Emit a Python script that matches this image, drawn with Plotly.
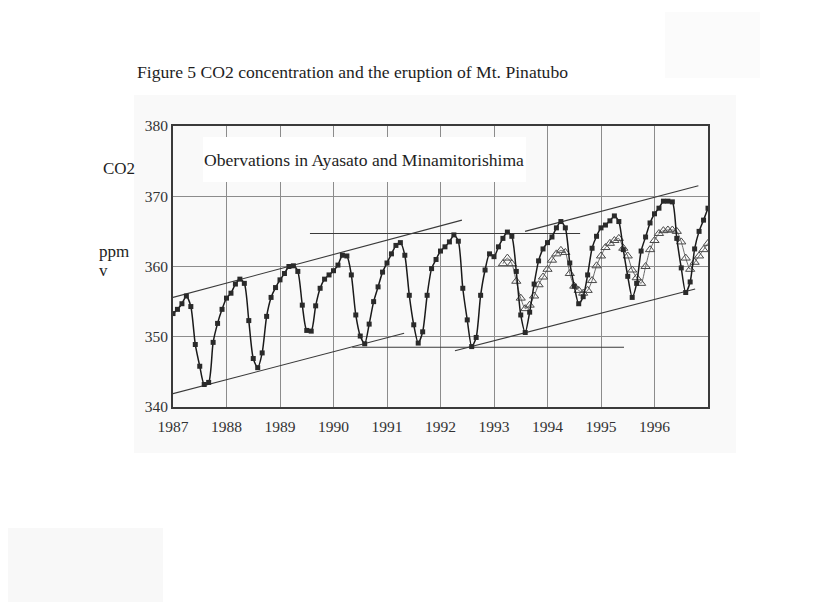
import numpy as np
import plotly.graph_objects as go

# Monthly CO2 (ppmv), Jan 1987 .. Jan 1997 -- Ayasato (filled squares)
ayasato = [
    353.3, 353.9, 354.7, 355.8, 354.3, 348.9, 345.8, 343.2, 343.5, 349.2, 351.9, 353.9,  # 1987
    355.5, 356.2, 357.5, 358.2, 357.6, 352.3, 346.9, 345.6, 347.7, 352.9, 355.6, 357.0,  # 1988
    358.1, 359.0, 360.0, 360.1, 359.3, 354.5, 350.9, 350.8, 354.4, 356.9, 358.2, 358.8,  # 1989
    359.4, 360.2, 361.6, 361.5, 358.8, 353.1, 350.1, 349.0, 351.8, 355.0, 357.1, 359.2,  # 1990
    360.5, 361.8, 363.0, 363.4, 361.6, 355.9, 351.7, 349.1, 350.7, 355.9, 359.7, 361.0,  # 1991
    362.2, 362.8, 363.5, 364.5, 363.6, 356.9, 352.4, 348.6, 349.9, 355.9, 359.5, 361.8,  # 1992
    361.4, 362.8, 364.0, 364.9, 364.3, 359.3, 353.1, 350.6, 353.5, 357.5, 360.8, 362.5,  # 1993
    363.4, 364.2, 365.5, 366.4, 365.5, 360.5, 357.2, 354.7, 355.7, 358.8, 362.6, 364.3,  # 1994
    365.5, 365.9, 366.5, 367.2, 366.4, 362.4, 358.6, 355.6, 357.6, 362.2, 364.2, 366.2,  # 1995
    367.5, 368.3, 369.3, 369.3, 369.2, 364.0, 359.8, 356.3, 357.8, 362.5, 365.0, 366.6,  # 1996
    368.3,                                                                               # Jan 1997
]

# Monthly CO2 (ppmv), Mar 1993 .. Jan 1997 -- Minamitorishima (open triangles)
minamitorishima_start = 1993 + 2 / 12
minamitorishima = [
    360.4, 361.2, 360.4, 357.9, 355.5, 354.0, 354.5, 355.8, 357.4, 358.5,                # 1993
    359.6, 360.9, 361.8, 362.3, 362.0, 359.0, 357.2, 356.6, 356.2, 356.6, 358.0, 360.1,  # 1994
    361.5, 362.7, 363.3, 363.7, 364.0, 362.6, 361.5, 359.5, 358.4, 357.6, 360.0, 362.4,  # 1995
    363.7, 364.7, 365.1, 365.2, 365.2, 365.0, 363.5, 361.2, 359.6, 360.6, 361.5, 362.4,  # 1996
    363.3,                                                                               # Jan 1997
]

# Hand-drawn guide lines: (start year, end year, start ppm, end ppm)
guide_lines = {
    "upper_early": (1987.00, 1992.40, 355.6, 366.6),
    "lower_early": (1987.00, 1991.32, 341.9, 350.5),
    "level_high": (1989.56, 1994.61, 364.7, 364.7),
    "level_low": (1990.35, 1995.43, 348.5, 348.5),
    "lower_late": (1992.27, 1996.76, 348.0, 356.8),
    "upper_late": (1993.58, 1996.82, 365.0, 371.5),
}

year_ticks = list(range(1987, 1998))
year_labels = [str(y) for y in range(1987, 1997)] + [""]
ppm_ticks = [340, 350, 360, 370, 380]

SERIF = "Liberation Serif, Times New Roman, serif"
INK = "#1e1e1e"

x_aya = 1987 + np.arange(len(ayasato)) / 12
x_min = minamitorishima_start + np.arange(len(minamitorishima)) / 12

fig = go.Figure()

for name, (x0, x1, y0, y1) in guide_lines.items():
    fig.add_trace(go.Scatter(
        x=[x0, x1], y=[y0, y1], mode="lines", name=name,
        line=dict(color="#3a3a3a", width=1.1), hoverinfo="skip",
    ))

fig.add_trace(go.Scatter(
    x=x_min, y=minamitorishima, mode="lines+markers", name="Minamitorishima",
    line=dict(color="#6a6a6a", width=1, shape="spline", smoothing=0.7),
    marker=dict(symbol="triangle-up-open", size=8, color="#4a4a4a", line=dict(width=1)),
))

fig.add_trace(go.Scatter(
    x=x_aya, y=ayasato, mode="lines+markers", name="Ayasato",
    line=dict(color="#1a1a1a", width=1.5, shape="spline", smoothing=0.7),
    marker=dict(symbol="square", size=5, color="#2a2a2a"),
))

# plot area placement in pixels
L, R, T, B = 173, 127, 126, 195
W, H = 835, 602
pw, ph = W - L - R, H - T - B


def px(x):
    return (x - L) / pw


def py(y):
    return (H - B - y) / ph


# faint paper tones around the chart
shapes = [
    dict(type="rect", xref="paper", yref="paper", x0=px(134), x1=px(736), y0=py(95), y1=py(453),
         fillcolor="#f9f9f9", line=dict(width=0), layer="below"),
    dict(type="rect", xref="paper", yref="paper", x0=px(8), x1=px(163), y0=py(528), y1=py(602),
         fillcolor="#f8f8f8", line=dict(width=0), layer="below"),
    dict(type="rect", xref="paper", yref="paper", x0=px(665), x1=px(760), y0=py(12), y1=py(78),
         fillcolor="#fbfbfb", line=dict(width=0), layer="below"),
    # white panel behind the caption inside the plot
    dict(type="rect", xref="paper", yref="paper", x0=px(203), x1=px(526), y0=py(137), y1=py(182),
         fillcolor="white", line=dict(width=0), layer="above"),
]

annotations = [
    dict(text="Figure 5 CO2 concentration and the eruption of Mt. Pinatubo",
         xref="paper", yref="paper", x=px(135), y=py(72), xanchor="left", yanchor="middle",
         showarrow=False, font=dict(family=SERIF, size=17.6, color=INK)),
    dict(text="Obervations in Ayasato and Minamitorishima",
         xref="paper", yref="paper", x=px(202), y=py(160), xanchor="left", yanchor="middle",
         showarrow=False, font=dict(family=SERIF, size=17.6, color=INK)),
    dict(text="CO2", xref="paper", yref="paper", x=px(101), y=py(168), xanchor="left",
         yanchor="middle", showarrow=False, font=dict(family=SERIF, size=17, color=INK)),
    dict(text="ppm", xref="paper", yref="paper", x=px(97), y=py(251), xanchor="left",
         yanchor="middle", showarrow=False, font=dict(family=SERIF, size=17, color=INK)),
    dict(text="v", xref="paper", yref="paper", x=px(97), y=py(270), xanchor="left",
         yanchor="middle", showarrow=False, font=dict(family=SERIF, size=17, color=INK)),
]

fig.update_layout(
    width=W, height=H,
    margin=dict(l=L, r=R, t=T, b=B, pad=0),
    paper_bgcolor="white",
    plot_bgcolor="#f9f9f9",
    showlegend=False,
    shapes=shapes,
    annotations=annotations,
    xaxis=dict(
        range=[1987, 1997], tickvals=year_ticks, ticktext=year_labels,
        showgrid=True, gridcolor="#8c8c8c", gridwidth=1,
        showline=True, linecolor="#3a3a3a", linewidth=2, mirror=True,
        ticks="", ticklabelstandoff=4, zeroline=False,
        tickfont=dict(family=SERIF, size=15.5, color="#333333"),
    ),
    yaxis=dict(
        range=[340, 380], tickvals=ppm_ticks,
        showgrid=True, gridcolor="#8c8c8c", gridwidth=1.2,
        showline=True, linecolor="#3a3a3a", linewidth=2, mirror=True,
        ticks="", zeroline=False,
        tickfont=dict(family=SERIF, size=15.5, color="#333333"),
    ),
)

fig.write_html("out.html")
